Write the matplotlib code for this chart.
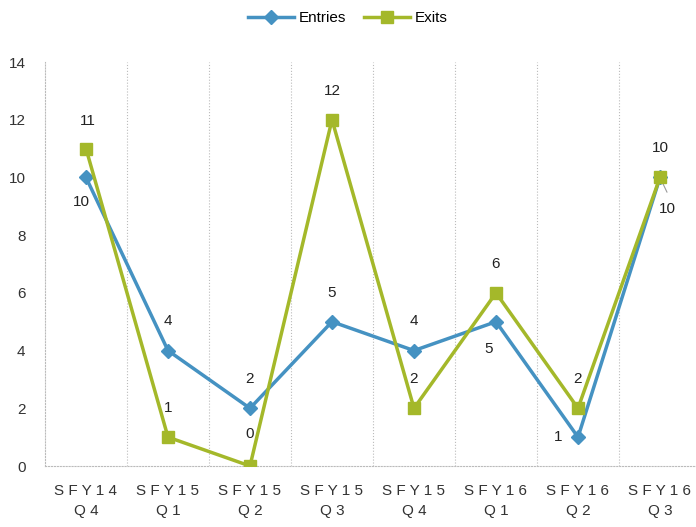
import matplotlib.pyplot as plt

plt.rcParams['font.family'] = ['Liberation Sans', 'DejaVu Sans']

quarters = ["S F Y 1 4\nQ 4", "S F Y 1 5\nQ 1", "S F Y 1 5\nQ 2", "S F Y 1 5\nQ 3",
            "S F Y 1 5\nQ 4", "S F Y 1 6\nQ 1", "S F Y 1 6\nQ 2", "S F Y 1 6\nQ 3"]
entries = [10, 4, 2, 5, 4, 5, 1, 10]
exits = [11, 1, 0, 12, 2, 6, 2, 10]

# label placement: offset in points
entry_offsets = [(-3, -18), (0, 21), (0, 21), (0, 21), (0, 21), (-5, -20), (-14, 0), (5, -23)]
exit_offsets = [(1, 20), (0, 21), (0, 23), (0, 21), (0, 21), (0, 21), (0, 21), (0, 21)]

blue = '#4592C2'
green = '#A4B82A'

fig = plt.figure(figsize=(6.96, 5.27), dpi=100)
ax = fig.add_axes([45 / 696, 61 / 527, 656 / 696, 404 / 527])

x = list(range(len(quarters)))
ax.plot(x, entries, color=blue, lw=2.5, marker='D', ms=7, label='Entries', zorder=3)
ax.plot(x, exits, color=green, lw=2.5, marker='s', ms=9, label='Exits', zorder=4)

for i, v in enumerate(entries):
    dx, dy = entry_offsets[i]
    ax.annotate(str(v), (i, v), xytext=(dx, dy), textcoords='offset points',
                ha='center', va='center', fontsize=11, color='#222222')
for i, v in enumerate(exits):
    dx, dy = exit_offsets[i]
    ax.annotate(str(v), (i, v), xytext=(dx, dy), textcoords='offset points',
                ha='center', va='center', fontsize=11, color='#222222')
# leader line for last entries label
ax.annotate('', (7, 10), xytext=(7.1, 9.4),
            arrowprops=dict(arrowstyle='-', color='#999999', lw=0.8))

ax.set_xlim(-0.5, 7.5)
ax.set_ylim(0, 14)
ax.set_yticks(range(0, 15, 2))
ax.set_xticks(x)
ax.set_xticklabels(quarters, fontsize=11, color='#333333', linespacing=1.5)
ax.tick_params(axis='y', labelsize=11, colors='#333333', length=0, pad=14)
ax.tick_params(axis='x', length=0, pad=13)

for b in [i + 0.5 for i in range(7)]:
    ax.axvline(b, color='#BBBBBB', lw=0.8, ls=':', zorder=1)

for s in ['top', 'right']:
    ax.spines[s].set_visible(False)
for s in ['left', 'bottom']:
    ax.spines[s].set_color('#BBBBBB')
    ax.spines[s].set_linestyle(':')
    ax.spines[s].set_linewidth(0.8)

fig.legend(loc='upper center', bbox_to_anchor=(0.5, 1.005), ncol=2, frameon=False,
           fontsize=11, handlelength=3, columnspacing=1.2, handletextpad=0.3)

fig.savefig('out.png', dpi=100)
